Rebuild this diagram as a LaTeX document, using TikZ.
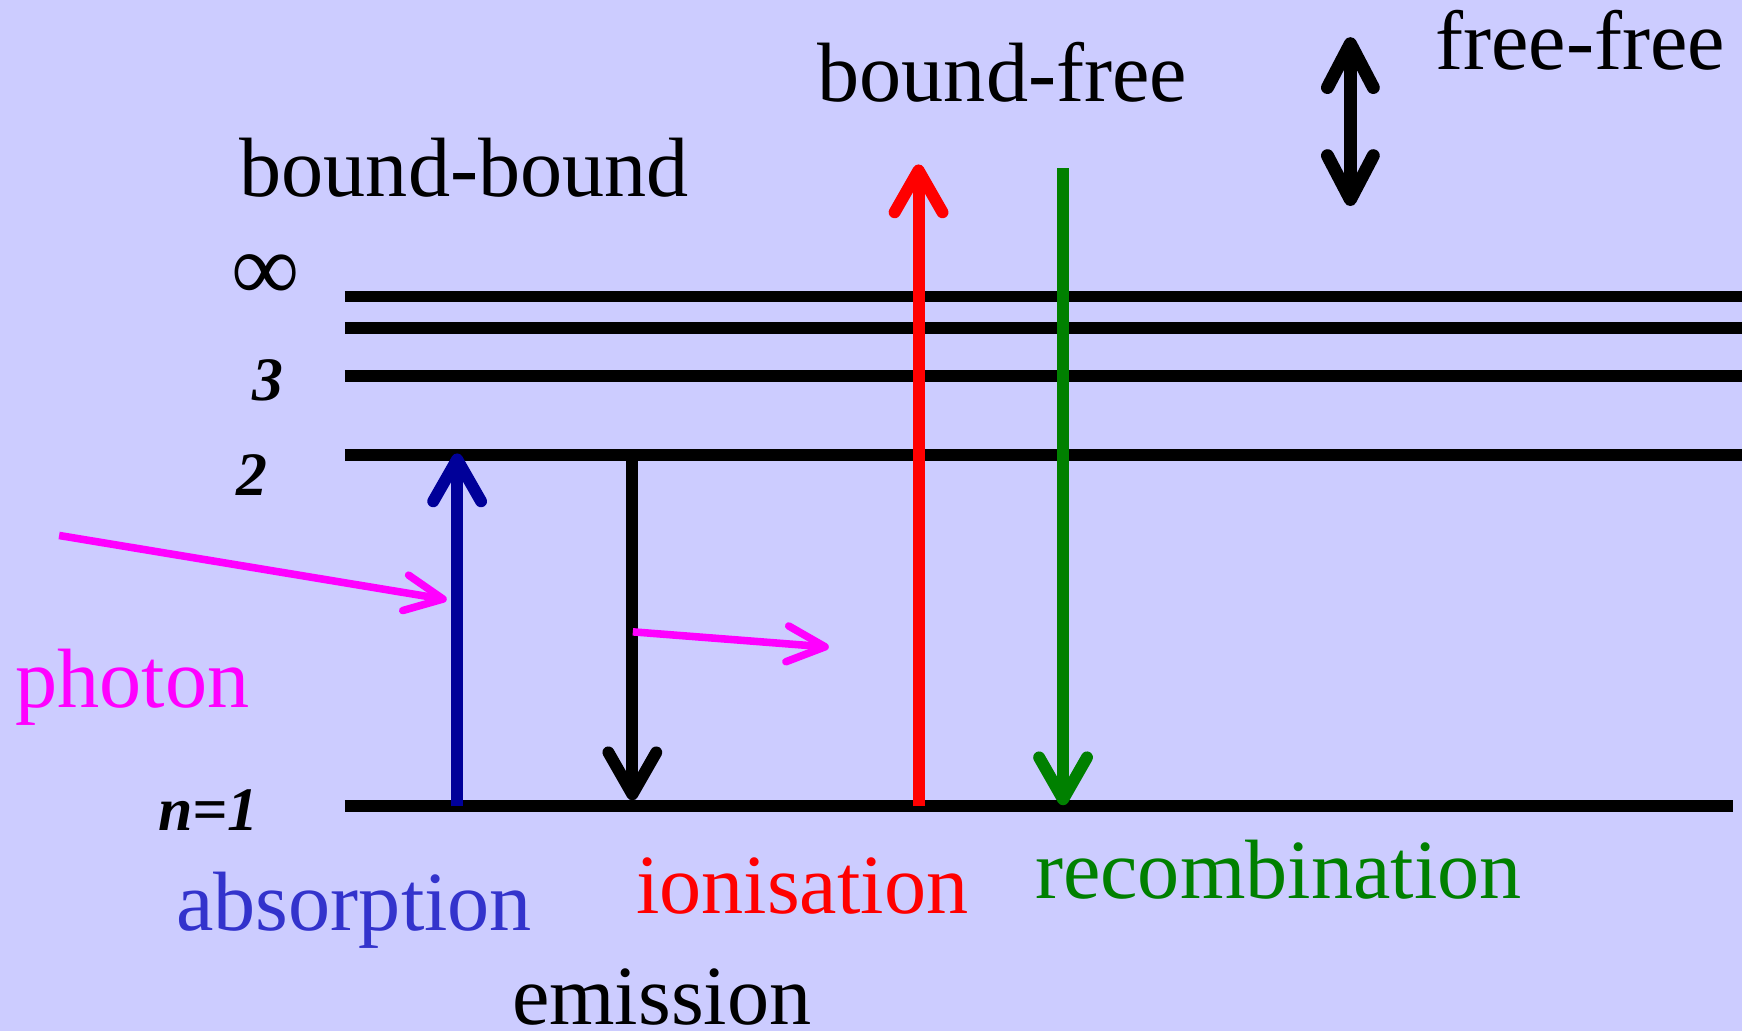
\documentclass[tikz,border=0pt]{standalone}
\usepackage{fontspec}
\setmainfont{Liberation Serif}
\usetikzlibrary{arrows.meta}
\definecolor{bgblue}{RGB}{204,204,255}
\definecolor{absblue}{RGB}{0,0,153}
\definecolor{abstext}{RGB}{51,51,204}
\definecolor{recgreen}{RGB}{0,128,0}
\definecolor{phmag}{RGB}{255,0,255}
\definecolor{ionred}{RGB}{255,0,0}
\begin{document}
\begin{tikzpicture}[x=0.5pt,y=-0.5pt,
  level/.style={line width=6pt},
  trans/.style={line width=6pt,-{Straight Barb[length=21pt,width=24pt,line width=6pt,round]}},
  freearrow/.style={line width=6.5pt,{Straight Barb[length=22pt,width=23pt,line width=6.5pt,round]}-{Straight Barb[length=22pt,width=23pt,line width=6.5pt,round]}},
  ray/.style={phmag,line width=3.8pt,-{Straight Barb[length=19pt,width=18pt,line width=3.8pt,round]}},
  lbl/.style={anchor=base west,inner sep=0pt,font=\fontsize{42.25}{50}\selectfont},
  qn/.style={anchor=base west,inner sep=0pt,font=\fontsize{31}{36}\selectfont\bfseries\itshape}]

% background and page size
\fill[bgblue] (0,0) rectangle (1748,1035);

% energy levels
\coordinate (Lia) at (346,297.5);  \coordinate (Lib) at (1748,297.5);
\coordinate (Lja) at (346,329);    \coordinate (Ljb) at (1748,329);
\coordinate (L3a) at (346,377);    \coordinate (L3b) at (1748,377);
\coordinate (L2a) at (346,457);    \coordinate (L2b) at (1748,457);
\coordinate (L1a) at (346,809);    \coordinate (L1b) at (1739,809);
\draw[level] (Lia) -- (Lib);
\draw[level] (Lja) -- (Ljb);
\draw[level] (L3a) -- (L3b);
\draw[level] (L2a) -- (L2b);
\draw[level] (L1a) -- (L1b);

% level labels
\node[anchor=base,inner sep=0pt,font=\fontsize{48}{56}\selectfont] (ninf) at (266.7,302) {∞};
\node[qn] (n3) at (252.7,401.7) {3};
\node[qn] (n2) at (236.7,497.3) {2};
\node[qn] (n1) at (158.3,833.3) {n=1};

% bound-bound: absorption and emission
\coordinate (absLo) at (458.7,809);
\coordinate (absHi) at (458.7,455);
\draw[trans,absblue] (absLo) -- (absHi);
\coordinate (emHi) at (634.5,457);
\coordinate (emLo) at (634.5,803);
\draw[trans,black] (emHi) -- (emLo);

% photons
\coordinate (ph1a) at (59.3,537.3);
\coordinate (ph1b) at (448.3,601.7);
\draw[ray] (ph1a) -- (ph1b);
\coordinate (ph2a) at (635,634);
\coordinate (ph2b) at (831.7,649.3);
\draw[ray] (ph2a) -- (ph2b);

% bound-free: ionisation and recombination
\coordinate (ionLo) at (921.7,809);
\coordinate (ionHi) at (921.7,165);
\draw[trans,ionred] (ionLo) -- (ionHi);
\coordinate (recHi) at (1066.7,169);
\coordinate (recLo) at (1066.7,808);
\draw[trans,recgreen] (recHi) -- (recLo);

% free-free
\coordinate (ffTop) at (1355,37.3);
\coordinate (ffBot) at (1355,206.7);
\draw[freearrow] (ffTop) -- (ffBot);

% labels
\node[lbl] (tbb) at (240,197.3) {bound-bound};
\node[lbl] (tbf) at (820,101.7) {bound-free};
\node[lbl] (tff) at (1440,70) {free-free};
\node[lbl,phmag] (tph) at (15,710) {photon};
\node[lbl,abstext] (tabs) at (176.7,934) {absorption};
\node[lbl,ionred] (tion) at (637.8,916.7) {ionisation};
\node[lbl,black] (tem) at (513.4,1028) {emission};
\node[lbl,recgreen] (trec) at (1038.3,901.7) {recombination};
\end{tikzpicture}
\end{document}
